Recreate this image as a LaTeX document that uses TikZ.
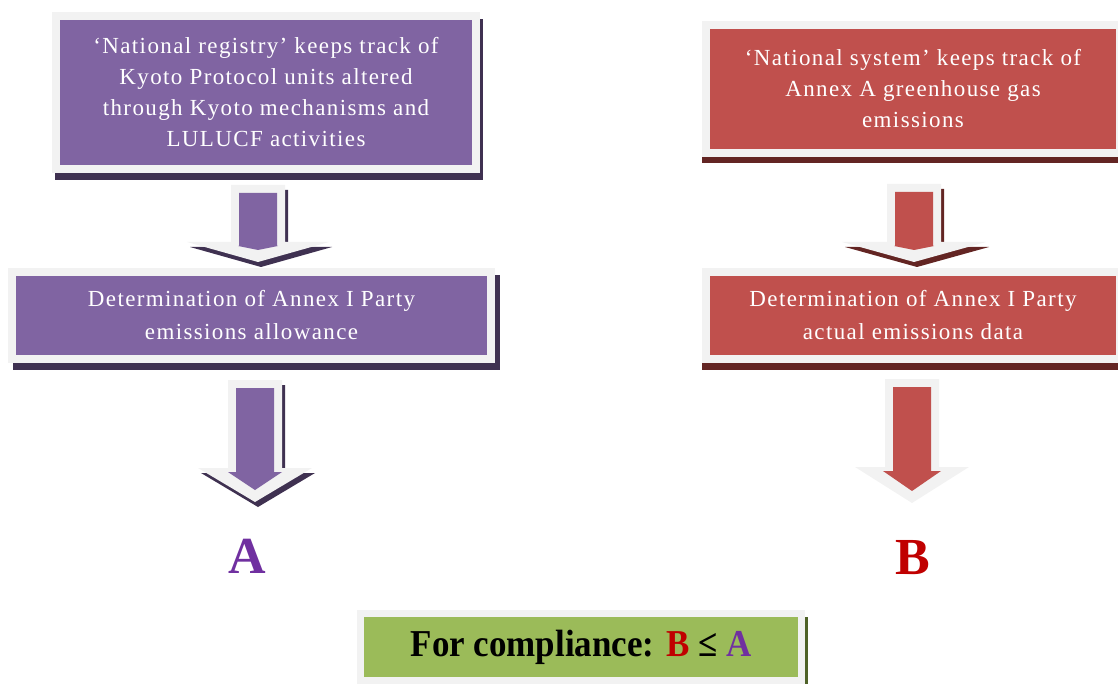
\documentclass[tikz,border=0pt]{standalone}
\usepackage{fontspec}
\setmainfont{Liberation Serif}
\newfontfamily\boxfont[LetterSpace=6]{Liberation Serif}
\newfontfamily\compfont[FakeStretch=0.92]{Liberation Serif}
\usetikzlibrary{shadows}
\definecolor{kp-purple}{HTML}{8064A2}
\definecolor{kp-purpledark}{HTML}{3F3151}
\definecolor{kp-red}{HTML}{C0504D}
\definecolor{kp-reddark}{HTML}{632523}
\definecolor{kp-green}{HTML}{9BBB59}
\definecolor{kp-greendark}{HTML}{4F6228}
\definecolor{kp-grey}{HTML}{F2F2F2}
\definecolor{kp-a}{HTML}{7030A0}
\definecolor{kp-b}{HTML}{C00000}

% block arrow: top point, shaft length, head half width, head length, inner head half, fill, shadow
\newcommand{\fatarrow}[7]{%
  \begin{scope}[shift={(#1)}]
    \begin{scope}[shift={(3,-5)}]
      \path[fill=#7] (-27,0) -- (27,0) -- (27,-#2) -- (#3,-#2) -- (0,-#2-#4) -- (-#3,-#2) -- (-27,-#2) -- cycle;
    \end{scope}
    \path[fill=kp-grey] (-27,0) -- (27,0) -- (27,-#2) -- (#3,-#2) -- (0,-#2-#4) -- (-#3,-#2) -- (-27,-#2) -- cycle;
    \path[fill=#6] (-19,-8) -- (19,-8) -- (19,-#2-4) -- (#5,-#2-4) -- (0,-#2-#4+12) -- (-#5,-#2-4) -- (-19,-#2-4) -- cycle;
  \end{scope}}

\begin{document}
\begin{tikzpicture}[x=1pt, y=1pt,
    box/.style={draw=kp-grey, line width=8pt, inner sep=0pt, align=center, text=white},
    topbox/.style={box, font=\boxfont\fontsize{23}{31}\selectfont},
    midbox/.style={box, minimum height=87pt, font=\boxfont\fontsize{23}{33}\selectfont},
    boxshade/.style={drop shadow={shadow xshift=#1, shadow yshift=-7pt, fill=kp-purpledark, draw=kp-purpledark, line width=8pt, opacity=1}},
    purplebox/.style={fill=kp-purple, boxshade=#1},
    redbox/.style={fill=kp-red, drop shadow={shadow xshift=0pt, shadow yshift=-6.5pt, fill=kp-reddark, draw=kp-reddark, line width=8pt, opacity=1}},
    letter/.style={inner sep=0pt, font=\bfseries\fontsize{52}{52}\selectfont}]
  \clip (0,0) rectangle (1118,-684);

  % registry side
  \node[topbox, purplebox=3pt, minimum width=420pt, minimum height=153pt] (registry) at (266,-92.5)
    {‘National registry’ keeps track of\\Kyoto Protocol units altered\\through Kyoto mechanisms and\\LULUCF activities};
  \node[midbox, purplebox=5pt, minimum width=479pt] (allowance) at (251.5,-315.5)
    {Determination of Annex I Party\\emissions allowance};
  \node[letter, text=kp-a] (A) at (247.5,-556.5) {A};

  % system side
  \node[topbox, redbox, minimum width=414pt, minimum height=128pt] (system) at (913,-89)
    {‘National system’ keeps track of\\Annex A greenhouse gas\\emissions};
  \node[midbox, redbox, minimum width=414pt] (actual) at (913,-315.5)
    {Determination of Annex I Party\\actual emissions data};
  \node[letter, text=kp-b] (B) at (912.5,-557.5) {B};

  % arrows
  \coordinate (regarrow) at (258,-185);
  \coordinate (allowarrow) at (255,-380);
  \coordinate (sysarrow) at (914,-184);
  \coordinate (actarrow) at (912,-379);
  \fatarrow{regarrow}{57}{71}{20}{20}{kp-purple}{kp-purpledark}
  \fatarrow{allowarrow}{88}{57}{34}{27}{kp-purple}{kp-purpledark}
  \fatarrow{sysarrow}{58}{72}{20}{20}{kp-red}{kp-reddark}
  \fatarrow{actarrow}{88}{57}{36}{29}{kp-red}{none}

  % compliance
  \node[draw=kp-grey, line width=7pt, fill=kp-green, minimum width=441pt, minimum height=67pt, inner sep=0pt,
        drop shadow={shadow xshift=6.5pt, shadow yshift=-3pt, fill=kp-greendark, opacity=1},
        font=\compfont\bfseries\fontsize{38}{40}\selectfont] (compliance) at (581,-647)
    {For compliance: \textcolor{kp-b}{B} ≤ \textcolor{kp-a}{A}};
\end{tikzpicture}
\end{document}
